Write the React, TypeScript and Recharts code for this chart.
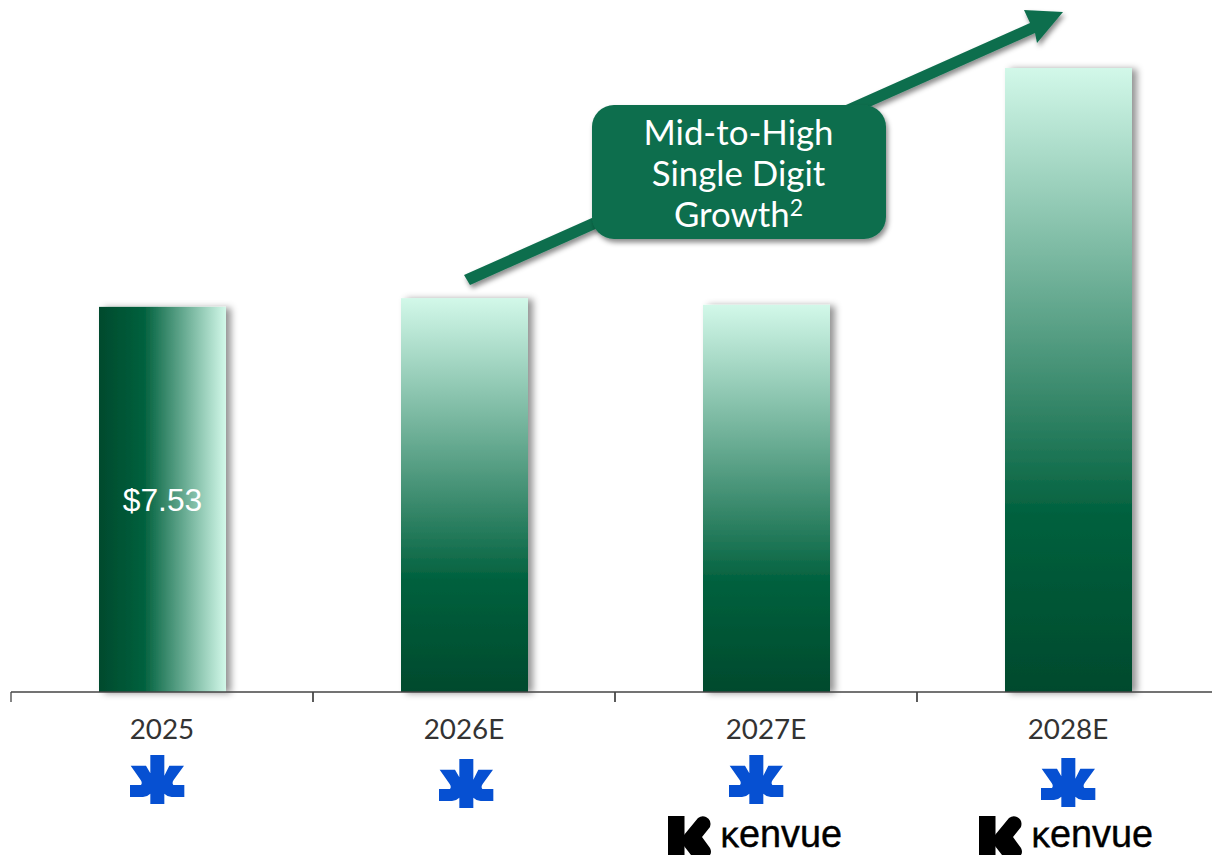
import React from "react"
import { BarChart, Bar, XAxis, YAxis, Cell, LabelList } from "recharts"

const years = ["2025", "2026E", "2027E", "2028E"]
const eps = [7.53, 7.7, 7.57, 12.2]
const calloutLines = ["Mid-to-High", "Single Digit", "Growth"]

const LABEL_FONT = "Lato, 'Noto Sans', sans-serif"
const BAND = 302
const GREEN = "#0c6e4d"

// logo placement per category, relative to the band centre
const STAR_POS = [
  { dx: -32, y: 755 },
  { dx: -25, y: 759 },
  { dx: -37, y: 755 },
  { dx: -27, y: 758 },
]
const KENVUE_POS = [null, null, { dx: -98 }, { dx: -89 }]

const data = years.map((year, i) => ({ year, eps: eps[i], label: i === 0 ? `$${eps[i].toFixed(2)}` : "" }))

function Star({ x, y }: { x: number; y: number }) {
  return (
    <path
      transform={`translate(${x},${y}) scale(0.3333)`}
      fill="#0650d2"
      d="M61 0H103V62L118 32H162L131 75Q125 84 130 90H163V126H125Q112 125 103 116V147H61V116Q52 125 39 126H0V90H33Q38 84 32 75L2 32H48L61 55Z"
    />
  )
}

function Kenvue({ x }: { x: number }) {
  return (
    <g transform={`translate(${x},0)`}>
      <rect x={0} y={816} width={16.5} height={39} fill="#000" />
      <path
        d="M16 835L30 818Q34 815 38 817Q44 820 42 827L34 837L42 848Q44 852 42 855H23L16 846Z"
        fill="#000"
      />
      <text
        x={53}
        y={846.5}
        fontFamily="'Liberation Sans', sans-serif"
        fontSize={38}
        textLength={121}
        lengthAdjust="spacingAndGlyphs"
        fill="#000"
        stroke="#000"
        strokeWidth={0.4}
      >
        {/* the wordmark's k sits at x-height */}
        <tspan fontVariant="small-caps" strokeWidth={1}>k</tspan>envue
      </text>
    </g>
  )
}

// category label, boundary tick and logos below the axis
function YearTick({ x, y, index, payload }: any) {
  const star = STAR_POS[index]
  const kenvue = KENVUE_POS[index]
  return (
    <g>
      <line x1={x - BAND / 2} x2={x - BAND / 2} y1={y - 6} y2={y + 4} stroke="#444" strokeWidth={1.3} />
      {index === years.length - 1 ? null : (
        <line x1={x + BAND / 2} x2={x + BAND / 2} y1={y - 6} y2={y + 4} stroke="#444" strokeWidth={1.3} />
      )}
      <text x={x} y={739} textAnchor="middle" fontFamily={LABEL_FONT} fontSize={27.8} fill="#333">
        {payload.value}
      </text>
      <Star x={x + star.dx} y={star.y} />
      {kenvue ? <Kenvue x={x + kenvue.dx} /> : null}
    </g>
  )
}

// shaded bar, the shadow comes from the filter in <defs>
function ShadowBar({ x, y, width, height, fill }: any) {
  return <rect x={x} y={y} width={width} height={height} fill={fill} filter="url(#barShadow)" />
}

function GrowthCallout() {
  return (
    <g>
      <polygon
        points="464,275 1030,23 1024,10 1063,12 1037,43 1035,33 470,285"
        fill={GREEN}
        filter="url(#softShadow)"
      />
      <rect x={592} y={105} width={294} height={134} rx={22} fill={GREEN} filter="url(#softShadow)" />
      {calloutLines.map((line, i) => (
        <text
          key={line}
          x={738.5}
          y={145 + i * 41}
          textAnchor="middle"
          fontFamily={LABEL_FONT}
          fontSize={34.8}
          fill="#fff"
        >
          {line}
          {i === 2 ? (
            <tspan fontSize={23} dy={-11}>
              2
            </tspan>
          ) : null}
        </text>
      ))}
    </g>
  )
}

export default function App() {
  return (
    <div style={{ position: "absolute", left: 0, top: 0, width: 1212, height: 855, overflow: "hidden", background: "#fff" }}>
      <BarChart
        width={1219}
        height={855}
        data={data}
        margin={{ top: 0, right: 0, bottom: 0, left: 11 }}
        barCategoryGap={0}
      >
        <defs>
          <linearGradient id="fadeVertical" x1="0" y1="0" x2="0" y2="1">
            <stop offset="0" stopColor="#d2f8e9" />
            <stop offset="0.72" stopColor="#00603d" />
            <stop offset="1" stopColor="#004a2d" />
          </linearGradient>
          <linearGradient id="fadeHorizontal" x1="0" y1="0" x2="1" y2="0">
            <stop offset="0" stopColor="#004a2d" />
            <stop offset="0.35" stopColor="#00603d" />
            <stop offset="1" stopColor="#d2f8e9" />
          </linearGradient>
          <filter id="barShadow" x="-20%" y="-5%" width="140%" height="110%">
            <feDropShadow dx={5} dy={1} stdDeviation={3.5} floodColor="#000" floodOpacity={0.42} />
          </filter>
          <filter id="softShadow" x="-10%" y="-10%" width="120%" height="125%">
            <feDropShadow dx={2} dy={3.5} stdDeviation={2.5} floodColor="#000" floodOpacity={0.45} />
          </filter>
        </defs>
        <XAxis
          dataKey="year"
          height={163}
          interval={0}
          axisLine={{ stroke: "#444", strokeWidth: 1.3 }}
          tickLine={false}
          tick={YearTick}
          tickMargin={0}
        />
        <YAxis hide domain={[0, 13.53]} />
        <Bar dataKey="eps" barSize={127} isAnimationActive={false} shape={ShadowBar}>
          {data.map((d, i) => (
            <Cell key={d.year} fill={i === 0 ? "url(#fadeHorizontal)" : "url(#fadeVertical)"} />
          ))}
          <LabelList
            dataKey="label"
            position="center"
            offset={0}
            fill="#fff"
            fontSize={31.8}
            fontFamily="'Liberation Sans', Arial, sans-serif"
          />
        </Bar>
        <GrowthCallout />
      </BarChart>
    </div>
  )
}
